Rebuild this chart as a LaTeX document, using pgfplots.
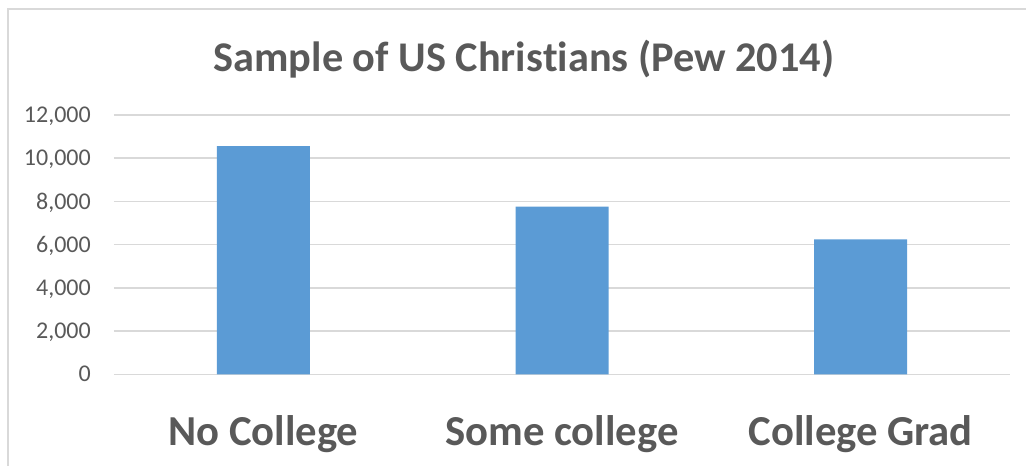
\documentclass[border=0pt]{standalone}
\usepackage{pgfplots}
\pgfplotsset{compat=1.18}
\usepackage{fontspec}
\setmainfont{Carlito}[Ligatures={NoCommon}]
\definecolor{barblue}{HTML}{5B9BD5}
\definecolor{txtgray}{HTML}{595959}
\definecolor{gridgray}{HTML}{D9D9D9}

\begin{document}
\begin{tikzpicture}
% 1px of the reference = 1pt; axis lower left = pixel (114,374.3)
\useasboundingbox (-114pt,-91.7pt) rectangle (912pt,374.3pt);
\draw[gridgray, line width=1.5pt] (-106pt,-91.7pt) -- (-106pt,365.3pt) -- (912pt,365.3pt);
\begin{axis}[
    at={(0pt,0pt)}, anchor=south west,
    scale only axis,
    width=896pt, height=259.3pt,
    ybar, bar width=93pt,
    xmin=-0.5, xmax=2.5,
    ymin=0, ymax=12000,
    xtick=data,
    xticklabels={No College,Some college,College Grad},
    ytick={0,2000,...,12000},
    ymajorgrids,
    grid style={gridgray, line width=1.6pt},
    axis line style={draw=none},
    major tick length=0pt,
    /pgf/number format/assume math mode=true,
    /pgf/number format/1000 sep={,},
    scaled y ticks=false,
    yticklabel style={font=\fontsize{24}{28}\selectfont, text=txtgray, inner sep=0pt, anchor=base east, xshift=-23pt, yshift=-7.6pt},
    xticklabel style={font=\fontsize{42.7}{50}\selectfont\bfseries, text=txtgray, inner sep=0pt, anchor=base, yshift=-70.7pt},
    clip=false,
]
\addplot[fill=barblue, draw=none] coordinates {
(0,10565)
(1,7756)
(2,6248)
};
\end{axis}
\node[anchor=base, inner sep=0pt, text=txtgray, font=\fontsize{42.3}{48}\selectfont\bfseries] at (410pt,302.3pt) {Sample of US Chris\kern0pt tians (Pew 2014)};
\end{tikzpicture}
\end{document}
